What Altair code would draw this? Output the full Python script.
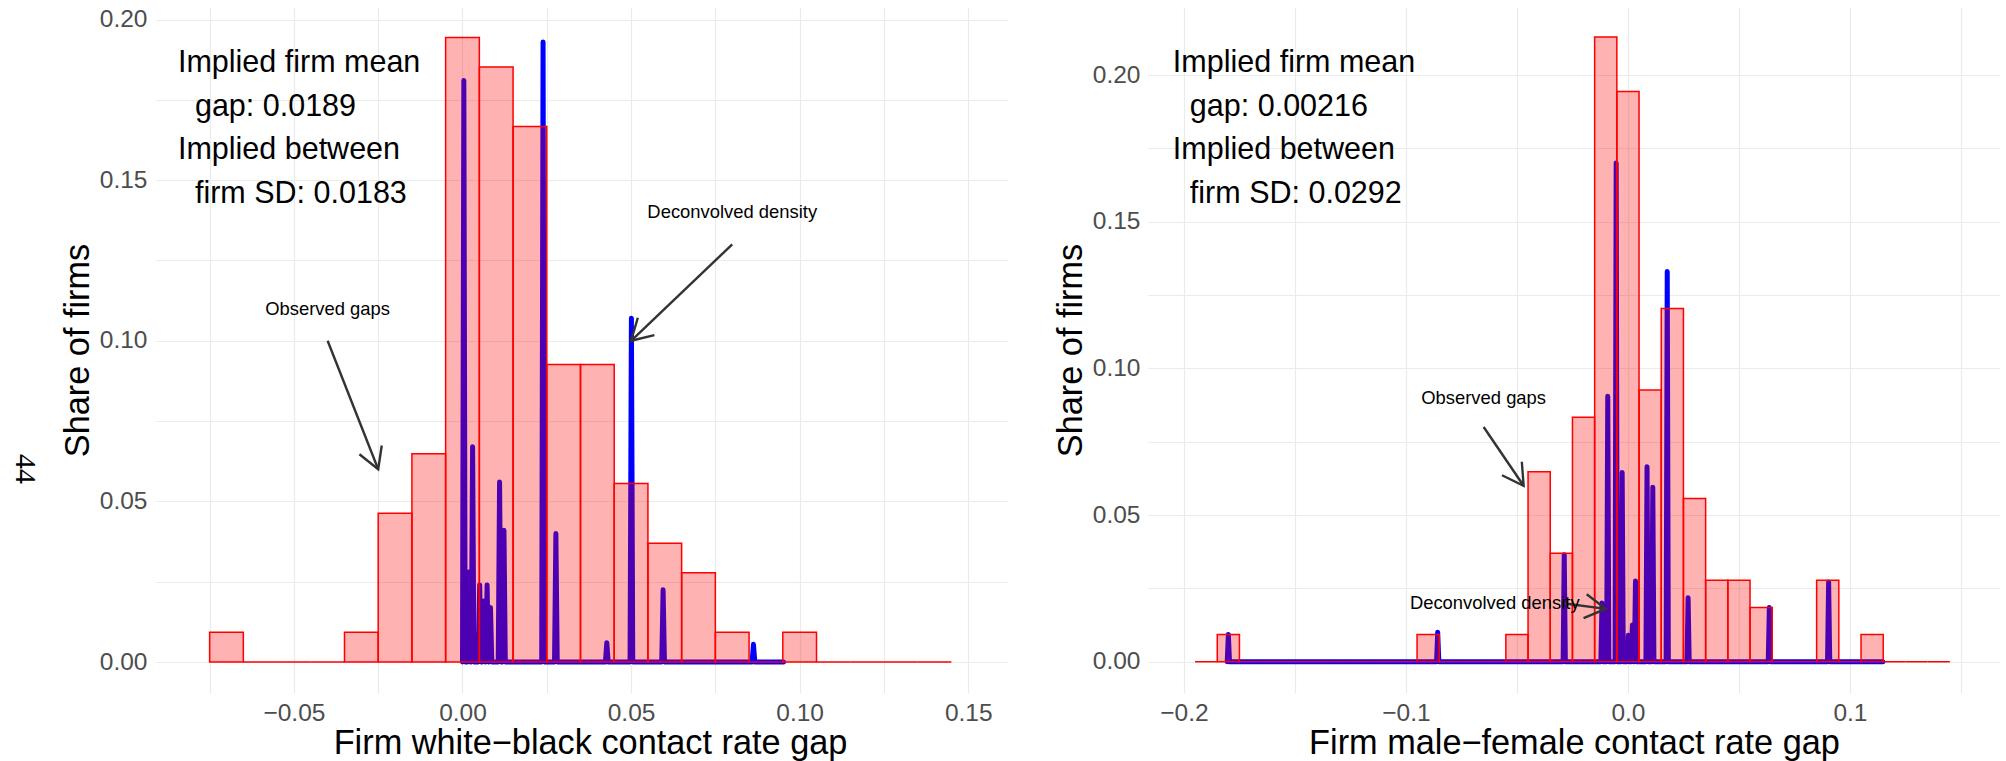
import math

import altair as alt
import pandas as pd

FONT = "Liberation Sans"
SERIF = "Liberation Serif"
ARROW = "#333333"

# ---------------------------------------------------------------------------
# Observed firm gaps: histogram bins of width 0.01 (bin centres) and shares
# ---------------------------------------------------------------------------
wb_bin_center = [-0.07, -0.06, -0.05, -0.04, -0.03, -0.02, -0.01, 0.00, 0.01, 0.02, 0.03,
                 0.04, 0.05, 0.06, 0.07, 0.08, 0.09, 0.10, 0.11, 0.12, 0.13, 0.14]
wb_share = [0.00926, 0, 0, 0, 0.00926, 0.0463, 0.0648, 0.1944, 0.1852, 0.1667, 0.0926,
            0.0926, 0.0556, 0.0370, 0.0278, 0.00926, 0, 0.00926, 0, 0, 0, 0]

mf_bin_center = [-0.19, -0.18, -0.17, -0.16, -0.15, -0.14, -0.13, -0.12, -0.11, -0.10,
                 -0.09, -0.08, -0.07, -0.06, -0.05, -0.04, -0.03, -0.02, -0.01, 0.00,
                 0.01, 0.02, 0.03, 0.04, 0.05, 0.06, 0.07, 0.08, 0.09, 0.10, 0.11,
                 0.12, 0.13, 0.14]
mf_share = [0, 0.00926, 0, 0, 0, 0, 0, 0, 0, 0,
            0.00926, 0, 0, 0, 0.00926, 0.0648, 0.0370, 0.0833, 0.2130, 0.1944,
            0.0926, 0.1204, 0.0556, 0.0278, 0.0278, 0.0185, 0, 0, 0.0278, 0, 0.00926,
            0, 0, 0]
BIN_WIDTH = 0.01

# ---------------------------------------------------------------------------
# Deconvolved density: support range, spike locations and spike heights
# ---------------------------------------------------------------------------
wb_density_range = [0.0, 0.0952]
wb_spike_x = [0.0004, 0.0019, 0.0030, 0.0051, 0.0063, 0.0073, 0.0083, 0.0110, 0.0123,
              0.0239, 0.0277, 0.0428, 0.0501, 0.0595, 0.0863]
wb_spike_h = [0.181, 0.028, 0.067, 0.024, 0.019, 0.024, 0.017, 0.056, 0.041,
              0.193, 0.040, 0.006, 0.107, 0.0225, 0.0055]

mf_density_range = [-0.1805, 0.1148]
mf_spike_x = [-0.1800, -0.0857, -0.0287, -0.0117, -0.0091, -0.0053, -0.0026, 0.0002,
              0.0020, 0.0034, 0.0086, 0.0112, 0.0177, 0.0271, 0.0637, 0.0904]
mf_spike_h = [0.0093, 0.0100, 0.0365, 0.0200, 0.0905, 0.1700, 0.0645, 0.0090,
              0.0125, 0.0275, 0.0665, 0.0595, 0.1330, 0.0218, 0.0185, 0.0272]

# ---------------------------------------------------------------------------
# Annotations
# ---------------------------------------------------------------------------
wb_stats_lines = ["Implied firm mean", "gap: 0.0189", "Implied between", "firm SD: 0.0183"]
wb_stats_xy = [-0.0844, 0.1837]
wb_note_text = ["Observed gaps", "Deconvolved density"]
wb_note_x = [-0.04, 0.08]
wb_note_y = [0.11, 0.14]
wb_arrow_from = [(-0.04, 0.10), (0.08, 0.13)]
wb_arrow_to = [(-0.025, 0.06), (0.05, 0.10)]

mf_stats_lines = ["Implied firm mean", "gap: 0.00216", "Implied between", "firm SD: 0.0292"]
mf_stats_xy = [-0.205, 0.2011]
mf_note_text = ["Observed gaps", "Deconvolved density"]
mf_note_x = [-0.065, -0.06]
mf_note_y = [0.09, 0.02]
mf_arrow_from = [(-0.065, 0.08), (-0.03, 0.02)]
mf_arrow_to = [(-0.047, 0.06), (-0.01, 0.018)]

# continuation lines of the summary text are indented
stats_indent = [0, 1, 0, 1]

# Axis tick / grid values
wb_x_ticks = [-0.075, -0.05, -0.025, 0.0, 0.025, 0.05, 0.075, 0.1, 0.125, 0.15]
mf_x_ticks = [-0.2, -0.15, -0.1, -0.05, 0.0, 0.05, 0.1, 0.15]
y_ticks = [0.0, 0.025, 0.05, 0.075, 0.1, 0.125, 0.15, 0.175, 0.2]

# Plot-area size and visible ranges of each panel
W, H = 852, 686
wb_x_domain = [-0.0912, 0.1615]
wb_y_domain = [-0.00965, 0.2039]
mf_x_domain = [-0.2162, 0.1676]
mf_y_domain = [-0.01067, 0.2232]

HEAD_LEN = 24          # arrow-head wing length in px
HEAD_PATH = "M-0.866,-0.5L0,0L-0.866,0.5"
STATS_LINE_PX = 43.7   # line spacing of the summary text
STATS_INDENT_PX = 17   # indent of its continuation lines


def labelled_axis(values, step, fmt, title, **kw):
    expr = (f"abs(datum.value / {step} - round(datum.value / {step})) < 1e-6 "
            f"? format(datum.value, '{fmt}') : ''")
    return alt.Axis(values=values, labelExpr=expr, title=title,
                    labelFlush=False, labelOverlap=False, **kw)


def density_table(rng, xs, hs, half):
    px, py = [rng[0]], [0.0]
    for x, h in zip(xs, hs):
        px += [max(x - half, rng[0]), x, x + half]
        py += [0.0, h, 0.0]
    px.append(rng[1])
    py.append(0.0)
    return pd.DataFrame({"x": px, "y": py, "order": list(range(len(px)))})


def panel(bin_center, share, dens, stats_lines, stats_xy, note_text, note_x, note_y,
          arrow_from, arrow_to, x_domain, y_domain, x_axis, y_axis, extra=None):
    xscale = alt.Scale(domain=x_domain, nice=False, zero=False)
    yscale = alt.Scale(domain=y_domain, nice=False, zero=False)

    def X(f):
        return alt.X(f, type="quantitative", scale=xscale, axis=x_axis)

    def Y(f):
        return alt.Y(f, type="quantitative", scale=yscale, axis=y_axis)

    bins = pd.DataFrame({
        "x0": [c - BIN_WIDTH / 2 for c in bin_center],
        "x1": [c + BIN_WIDTH / 2 for c in bin_center],
        "share": share,
        "base": [0.0] * len(share),
    })

    sx = W / (x_domain[1] - x_domain[0])
    sy = H / (y_domain[1] - y_domain[0])
    arrows = pd.DataFrame({
        "x1": [a[0] for a in arrow_from], "y1": [a[1] for a in arrow_from],
        "x2": [b[0] for b in arrow_to], "y2": [b[1] for b in arrow_to],
    })
    arrows["ang"] = [
        math.degrees(math.atan2(-(b[1] - a[1]) * sy, (b[0] - a[0]) * sx))
        for a, b in zip(arrow_from, arrow_to)
    ]

    notes = pd.DataFrame({"x": note_x, "y": note_y, "label": note_text})
    stats_df = pd.DataFrame({
        "x": [stats_xy[0] + k * STATS_INDENT_PX / sx for k in stats_indent],
        "y": [stats_xy[1] - i * STATS_LINE_PX / sy for i in range(len(stats_lines))],
        "label": stats_lines,
    })

    line = alt.Chart(dens).mark_line(
        color="#0000FF", strokeWidth=5, strokeCap="round", strokeJoin="round"
    ).encode(x=X("x"), y=Y("y"), order="order:Q")

    hist = alt.Chart(bins).mark_rect(
        fill="#FF0000", fillOpacity=0.3, stroke="#FF0000", strokeWidth=1.5
    ).encode(x=X("x0"), x2="x1", y=Y("share"), y2="base")

    shafts = alt.Chart(arrows).mark_rule(color=ARROW, strokeWidth=2.4).encode(
        x=X("x1"), y=Y("y1"), x2="x2", y2="y2")

    heads = alt.Chart(arrows).mark_point(
        shape=HEAD_PATH, filled=False, color=ARROW, strokeWidth=2.4, opacity=1,
        size=(2 * HEAD_LEN) ** 2
    ).encode(x=X("x2"), y=Y("y2"), angle=alt.Angle("ang:Q", scale=None))

    note_marks = alt.Chart(notes).mark_text(
        font=FONT, fontSize=18.4, color="black", align="center", baseline="middle"
    ).encode(x=X("x"), y=Y("y"), text="label:N")

    stats_mark = alt.Chart(stats_df).mark_text(
        font=FONT, fontSize=30.5, color="black", align="left", baseline="alphabetic"
    ).encode(x=X("x"), y=Y("y"), text="label:N")

    layers = [line, hist, shafts, heads, note_marks, stats_mark]
    if extra is not None:
        layers.append(extra)
    return alt.layer(*layers).properties(width=W, height=H)


y_axis = labelled_axis(y_ticks, 0.05, ".2f", "Share of firms")

# page number printed sideways at the left margin
page_number = alt.Chart(pd.DataFrame({"t": ["44"]})).mark_text(
    font=SERIF, fontSize=30, color="black", angle=90, align="center", baseline="middle"
).encode(x=alt.value(-130), y=alt.value(462), text="t:N")

left = panel(
    wb_bin_center, wb_share,
    density_table(wb_density_range, wb_spike_x, wb_spike_h, 0.0004),
    wb_stats_lines, wb_stats_xy, wb_note_text, wb_note_x, wb_note_y,
    wb_arrow_from, wb_arrow_to, wb_x_domain, wb_y_domain,
    labelled_axis(wb_x_ticks, 0.05, ".2f", "Firm white\u2212black contact rate gap",
                  titleX=435),
    y_axis, extra=page_number,
)

right = panel(
    mf_bin_center, mf_share,
    density_table(mf_density_range, mf_spike_x, mf_spike_h, 0.0005),
    mf_stats_lines, mf_stats_xy, mf_note_text, mf_note_x, mf_note_y,
    mf_arrow_from, mf_arrow_to, mf_x_domain, mf_y_domain,
    labelled_axis(mf_x_ticks, 0.1, ".1f", "Firm male\u2212female contact rate gap"),
    y_axis,
)

chart = (
    alt.hconcat(left, right, spacing=47)
    .properties(padding={"left": 10, "top": 6, "right": 0, "bottom": 0}, background="white")
    .configure_axis(
        grid=True, gridColor="#EBEBEB", gridWidth=1.2, domain=False, ticks=False,
        labelFont=FONT, labelFontSize=24.5, labelColor="#4D4D4D", labelPadding=8,
        titleFont=FONT, titleFontSize=34.3, titleFontWeight="normal", titleColor="black",
    )
    .configure_axisX(titlePadding=2)
    .configure_axisY(titlePadding=4)
    .configure_view(strokeWidth=0)
)

chart.save("out.html", embed_options={"renderer": "svg", "actions": False})
